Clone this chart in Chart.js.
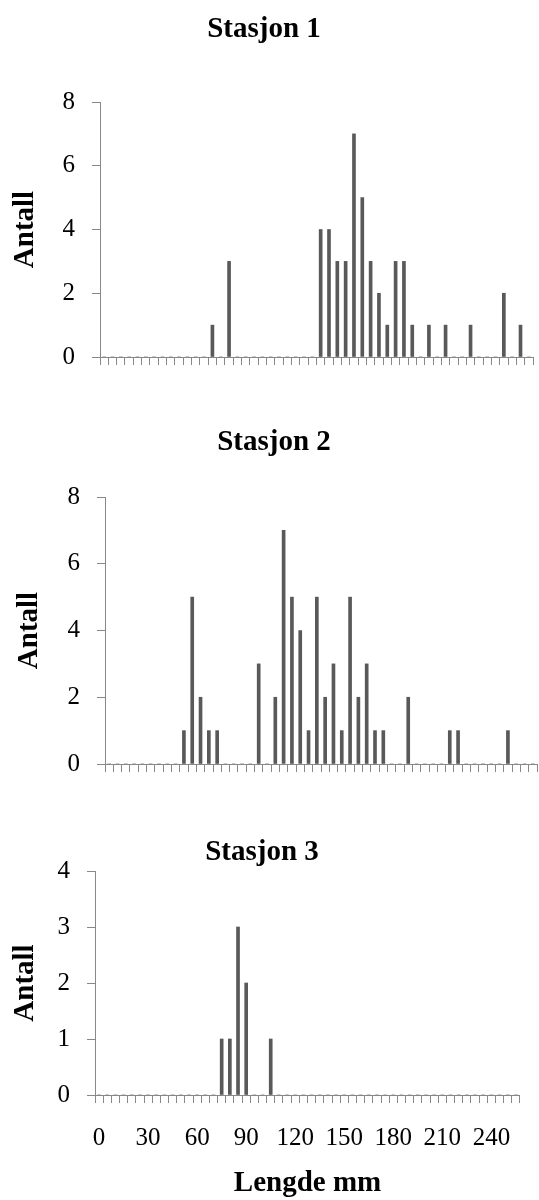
<!DOCTYPE html>
<html lang="no">
<head>
    <meta charset="UTF-8">
    <title>Lengdefordeling per stasjon</title>
    <style>
        body {
            margin: 0;
            padding: 0;
            background: #ffffff;
        }
        #page {
            position: relative;
            width: 539px;
            height: 1200px;
        }
        #page canvas {
            position: absolute;
            left: 0;
        }
    </style>
</head>
<body>
    <div id="page">
        <canvas id="chart1" width="539" height="400" style="top:0px"></canvas>
        <canvas id="chart2" width="539" height="400" style="top:400px"></canvas>
        <canvas id="chart3" width="539" height="400" style="top:800px"></canvas>
    </div>
    <script src="https://cdn.jsdelivr.net/npm/chart.js@4.4.0/dist/chart.umd.min.js"></script>
    <script>
        // lengdeklasser (mm)
        const lengths = [0, 5, 10, 15, 20, 25, 30, 35, 40, 45,
                         50, 55, 60, 65, 70, 75, 80, 85, 90, 95,
                         100, 105, 110, 115, 120, 125, 130, 135, 140, 145,
                         150, 155, 160, 165, 170, 175, 180, 185, 190, 195,
                         200, 205, 210, 215, 220, 225, 230, 235, 240, 245,
                         250, 255];

        const stasjon1 = [0, 0, 0, 0, 0, 0, 0, 0, 0, 0,
                          0, 0, 0, 1, 0, 3, 0, 0, 0, 0,
                          0, 0, 0, 0, 0, 0, 4, 4, 3, 3,
                          7, 5, 3, 2, 1, 3, 3, 1, 0, 1,
                          0, 1, 0, 0, 1, 0, 0, 0, 2, 0,
                          1, 0];

        const stasjon2 = [0, 0, 0, 0, 0, 0, 0, 0, 0, 1,
                          5, 2, 1, 1, 0, 0, 0, 0, 3, 0,
                          2, 7, 5, 4, 1, 5, 2, 3, 1, 5,
                          2, 3, 1, 1, 0, 0, 2, 0, 0, 0,
                          0, 1, 1, 0, 0, 0, 0, 0, 1, 0,
                          0, 0];

        const stasjon3 = [0, 0, 0, 0, 0, 0, 0, 0, 0, 0,
                          0, 0, 0, 0, 0, 1, 1, 3, 2, 0,
                          0, 1, 0, 0, 0, 0, 0, 0, 0, 0,
                          0, 0, 0, 0, 0, 0, 0, 0, 0, 0,
                          0, 0, 0, 0, 0, 0, 0, 0, 0, 0,
                          0, 0];

        const xTickLabels = ['0', '30', '60', '90', '120', '150', '180', '210', '240'];
        const yTicks12 = [0, 2, 4, 6, 8];
        const yTicks3 = [0, 1, 2, 3, 4];

        const FONT = "'Liberation Serif', 'Times New Roman', serif";
        const AXIS_GRAY = '#888888';
        const BAR_GRAY = '#595959';

        // tegner "Stasjon n" der Excel hadde den
        const stationTitle = {
            id: 'stationTitle',
            afterDraw(chart, args, opts) {
                const ctx = chart.ctx;
                ctx.save();
                ctx.font = 'bold 29px ' + FONT;
                ctx.fillStyle = '#000000';
                ctx.textAlign = 'center';
                ctx.textBaseline = 'alphabetic';
                ctx.fillText(opts.text, opts.x, opts.y);
                ctx.restore();
            }
        };

        function makeChart(id, values, cfg) {
            const ctx = document.getElementById(id).getContext('2d');
            return new Chart(ctx, {
                type: 'bar',
                data: {
                    labels: lengths,
                    datasets: [{
                        data: values,
                        backgroundColor: BAR_GRAY,
                        borderWidth: 0,
                        barThickness: 3
                    }]
                },
                plugins: [stationTitle],
                options: {
                    responsive: false,
                    animation: false,
                    layout: {
                        padding: cfg.padding
                    },
                    plugins: {
                        legend: { display: false },
                        tooltip: { enabled: false },
                        stationTitle: cfg.title
                    },
                    scales: {
                        x: {
                            grid: {
                                offset: true,
                                drawOnChartArea: false,
                                drawTicks: true,
                                tickLength: 8,
                                color: AXIS_GRAY
                            },
                            border: { display: true, color: AXIS_GRAY, width: 1 },
                            ticks: {
                                display: cfg.showX,
                                autoSkip: false,
                                maxRotation: 0,
                                minRotation: 0,
                                padding: 23,
                                color: '#000000',
                                font: { family: FONT, size: 25, lineHeight: 1 },
                                callback: function (value, index) {
                                    const s = String(lengths[index]);
                                    return xTickLabels.includes(s) ? s : '';
                                }
                            },
                            title: {
                                display: cfg.showX,
                                text: 'Lengde mm',
                                color: '#000000',
                                font: { family: FONT, size: 29, weight: 'bold', lineHeight: 1 },
                                padding: { top: 0, bottom: 2 }
                            },
                            afterFit: function (scale) {
                                scale.height = cfg.xHeight;
                            }
                        },
                        y: {
                            min: 0,
                            max: cfg.yMax,
                            afterBuildTicks: function (scale) {
                                scale.ticks = cfg.yTicks.map(v => ({ value: v }));
                            },
                            grid: {
                                drawOnChartArea: false,
                                drawTicks: true,
                                tickLength: 8,
                                color: AXIS_GRAY
                            },
                            border: { display: true, color: AXIS_GRAY, width: 1 },
                            ticks: {
                                padding: 17,
                                color: '#000000',
                                font: { family: FONT, size: 25, lineHeight: 1 }
                            },
                            title: {
                                display: true,
                                text: 'Antall',
                                color: '#000000',
                                font: { family: FONT, size: 29, weight: 'bold', lineHeight: 1 },
                                padding: { top: cfg.yTitlePad, bottom: 0 }
                            },
                            afterFit: function (scale) {
                                scale.width = cfg.yWidth;
                            }
                        }
                    }
                }
            });
        }

        makeChart('chart1', stasjon1, {
            padding: { top: 102, right: 6, bottom: 35, left: 0 },
            title: { text: 'Stasjon 1', x: 264, y: 37 },
            yMax: 8, yTicks: yTicks12, yWidth: 100, yTitlePad: 11,
            xHeight: 8, showX: false
        });

        makeChart('chart2', stasjon2, {
            padding: { top: 97, right: 2, bottom: 28, left: 0 },
            title: { text: 'Stasjon 2', x: 274, y: 50 },
            yMax: 8, yTicks: yTicks12, yWidth: 105, yTitlePad: 15,
            xHeight: 8, showX: false
        });

        makeChart('chart3', stasjon3, {
            padding: { top: 71, right: 10, bottom: 0, left: 0 },
            title: { text: 'Stasjon 3', x: 262, y: 60 },
            yMax: 4, yTicks: yTicks3, yWidth: 95, yTitlePad: 11,
            xHeight: 105, showX: true
        });
    </script>
</body>
</html>
